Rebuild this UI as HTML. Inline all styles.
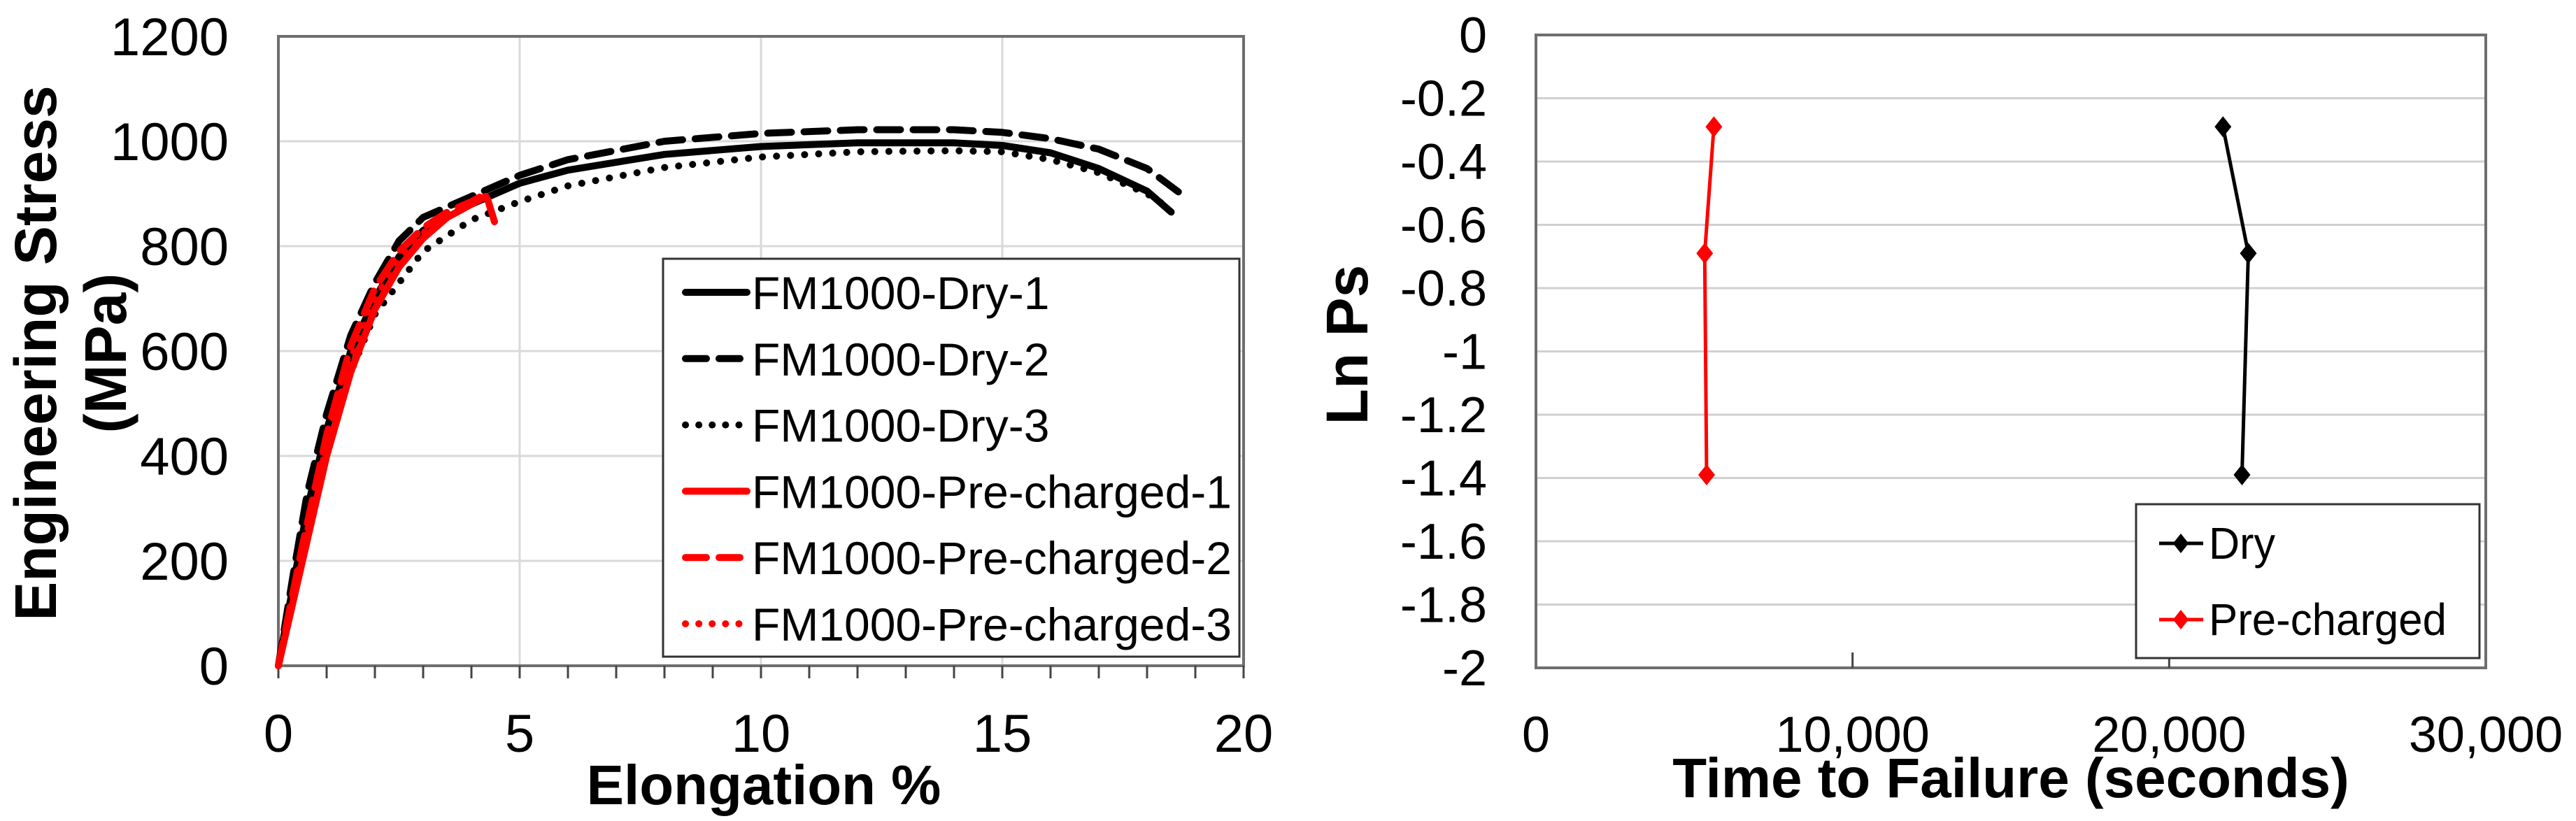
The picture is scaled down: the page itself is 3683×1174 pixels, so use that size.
<!DOCTYPE html>
<html><head><meta charset="utf-8"><style>
html,body{margin:0;padding:0;background:#fff;}
svg{display:block;font-family:"Liberation Sans",Arial,sans-serif;}
</style></head><body>
<svg id="c" width="3683" height="1174" viewBox="0 0 3683 1174"></svg>
<script>
// ---- Left chart data ----
const elongTicks = [0,5,10,15,20];
const stressTicks = [0,200,400,600,800,1000,1200];
const seriesNames = ["FM1000-Dry-1","FM1000-Dry-2","FM1000-Dry-3","FM1000-Pre-charged-1","FM1000-Pre-charged-2","FM1000-Pre-charged-3"];
const dry1X = [0,0.3,0.6,1,1.5,2,2.5,3,4,5,6,8,10,12,14,15,16,17,18,18.5];
const dry1Y = [0,150,300,450,600,700,780,830,880,920,945,975,990,997,997,992,978,948,905,865];
const dry2X = [0,0.3,0.6,1,1.5,2,2.5,3,4,5,6,8,10,12,14,15,16,17,18,18.7];
const dry2Y = [0,170,330,480,630,730,810,855,895,935,965,1000,1015,1022,1022,1017,1005,985,948,900];
const dry3X = [0,0.5,1,1.5,2,3,4,5,6,8,10,12,14,15,16,17,18,18.5];
const dry3Y = [0,200,400,560,670,790,850,885,915,950,970,980,982,980,965,940,900,870];
const pre1X = [0,0.5,1,1.5,2,2.5,3,3.5,4,4.3];
const pre1Y = [0,200,400,560,680,760,815,855,880,895];
const pre2X = [0,0.5,1,1.5,2,2.5,3,3.5,4,4.3,4.4,4.5];
const pre2Y = [0,230,440,610,720,790,835,865,885,900,870,840];
const pre3X = [0,0.5,1,1.5,2,2.5,3,3.5,4,4.2];
const pre3Y = [0,215,420,585,700,775,825,860,882,890];
// ---- Right chart data ----
const timeTicks = [0,10000,20000,30000];
const timeTickLabels = ["0","10,000","20,000","30,000"];
const lnTicks = [0,-0.2,-0.4,-0.6,-0.8,-1,-1.2,-1.4,-1.6,-1.8,-2];
const dryTime = [21700,22500,22300];
const dryLn = [-0.29,-0.69,-1.39];
const preTime = [5620,5330,5390];
const preLn = [-0.29,-0.69,-1.39];

const svg = document.getElementById('c');
const NS = "http://www.w3.org/2000/svg";
function mk(tag, attrs, parent){const e=document.createElementNS(NS,tag);for(const k in attrs)e.setAttribute(k,attrs[k]);(parent||svg).appendChild(e);return e;}

// Left axes
const L={x0:398,x1:1778,y0:952,y1:52};
const lx=v=>L.x0+(v-0)/(20-0)*(L.x1-L.x0);
const ly=v=>L.y0-(v-0)/(1200-0)*(L.y0-L.y1);
const gL=mk('g',{});


elongTicks.forEach(t=>{ if(t>0&&t<20){const l=mk('line',{x1:lx(t),x2:lx(t),y1:L.y1,y2:L.y0,stroke:'#d9d9d9','stroke-width':3},gL);}});
stressTicks.forEach(t=>{ if(t>0&&t<1200){const l=mk('line',{x1:L.x0,x2:L.x1,y1:ly(t),y2:ly(t),stroke:'#d9d9d9','stroke-width':3},gL);}});
const fr=mk('rect',{x:L.x0,y:L.y1,width:L.x1-L.x0,height:L.y0-L.y1,fill:'none',stroke:'#6e6e6e','stroke-width':4},gL);

for(let i=0;i<=20;i++){const l=mk('line',{x1:lx(i),x2:lx(i),y1:L.y0,y2:L.y0+18,stroke:'#444','stroke-width':3},gL);}
stressTicks.forEach(t=>{const e=mk('text',{x:327,y:ly(t)+27,'text-anchor':'end','font-size':76},gL);e.textContent=t;});
elongTicks.forEach(t=>{const e=mk('text',{x:lx(t),y:1075,'text-anchor':'middle','font-size':76},gL);e.textContent=t;});
let tt=mk('text',{x:1092,y:1150,'text-anchor':'middle','font-size':80,'font-weight':'bold'},gL);tt.textContent='Elongation %';

tt=mk('text',{x:0,y:0,'text-anchor':'middle','font-size':84,'font-weight':'bold',transform:'translate(80,505) rotate(-90)'},gL);tt.textContent='Engineering Stress';

tt=mk('text',{x:0,y:0,'text-anchor':'middle','font-size':84,'font-weight':'bold',transform:'translate(180,505) rotate(-90)'},gL);tt.textContent='(MPa)';


const styles=[
 {c:'#000',d:null},{c:'#000',d:'34 18'},{c:'#000',d:'0.1 20'},
 {c:'#ff0000',d:null},{c:'#ff0000',d:'34 18'},{c:'#ff0000',d:'0.1 20'}];
const sx=[dry1X,dry2X,dry3X,pre1X,pre2X,pre3X], sy=[dry1Y,dry2Y,dry3Y,pre1Y,pre2Y,pre3Y];
const lineNames=['line-dry-1','line-dry-2','line-dry-3','line-pre-charged-1','line-pre-charged-2','line-pre-charged-3'];
sx.forEach((xs,i)=>{
  const pts=xs.map((x,j)=>lx(x).toFixed(1)+','+ly(sy[i][j]).toFixed(1)).join(' ');
  const a={points:pts,fill:'none',stroke:styles[i].c,'stroke-width':10,'stroke-linecap':'round','stroke-linejoin':'round'};
  if(styles[i].d)a['stroke-dasharray']=styles[i].d;
  const p=mk('polyline',a,gL);
  
  
});
// Left legend
const lg=mk('g',{},gL);

mk('rect',{x:948,y:370,width:824,height:569,fill:'#fff',stroke:'#333','stroke-width':3},lg);
seriesNames.forEach((n,i)=>{
  const y=418+i*94.8;
  const a={x1:980,x2:1068,y1:y,y2:y,stroke:styles[i].c,'stroke-width':10,'stroke-linecap':'round'};
  if(styles[i].d)a['stroke-dasharray']=styles[i].d==='0.1 20'?'0.1 19':'30 18';
  mk('line',a,lg);
  const t=mk('text',{x:1075,y:y+24,'font-size':66},lg);t.textContent=n;
  
});

// Right axes
const R={x0:2196,x1:3554,y0:955,y1:50};
const rx=v=>R.x0+v/30000*(R.x1-R.x0);
const ry=v=>R.y1+(0-v)/2*(R.y0-R.y1);
const gR=mk('g',{});

lnTicks.forEach(t=>{ if(t<0&&t>-2){const l=mk('line',{x1:R.x0,x2:R.x1,y1:ry(t),y2:ry(t),stroke:'#d0d0d0','stroke-width':3},gR);}});
const fr2=mk('rect',{x:R.x0,y:R.y1,width:R.x1-R.x0,height:R.y0-R.y1,fill:'none',stroke:'#6e6e6e','stroke-width':4},gR);

timeTicks.forEach((t,i)=>{
  if(i>0&&i<3){const l=mk('line',{x1:rx(t),x2:rx(t),y1:R.y0-22,y2:R.y0,stroke:'#444','stroke-width':3},gR);}
  const e=mk('text',{x:rx(t),y:1075,'text-anchor':'middle','font-size':72},gR);e.textContent=timeTickLabels[i];
  
});
lnTicks.forEach(t=>{const e=mk('text',{x:2126,y:ry(t)+25,'text-anchor':'end','font-size':72},gR);e.textContent=String(t);
  });
tt=mk('text',{x:2875,y:1140,'text-anchor':'middle','font-size':80,'font-weight':'bold'},gR);tt.textContent='Time to Failure (seconds)';

tt=mk('text',{x:0,y:0,'text-anchor':'middle','font-size':84,'font-weight':'bold',transform:'translate(1955,493) rotate(-90)'},gR);tt.textContent='Ln Ps';

function diamond(cx,cy,r,col,parent){return mk('polygon',{points:`${cx},${cy-r} ${cx+r*0.8},${cy} ${cx},${cy+r} ${cx-r*0.8},${cy}`,fill:col},parent);}
[[dryTime,dryLn,'#000','series-dry'],[preTime,preLn,'#ff0000','series-pre-charged']].forEach(([xs,ys,col,nm])=>{
  const g=mk('g',{},gR);
  
  mk('polyline',{points:xs.map((x,j)=>rx(x)+','+ry(ys[j])).join(' '),fill:'none',stroke:col,'stroke-width':5},g);
  xs.forEach((x,j)=>{const d=diamond(rx(x),ry(ys[j]),15,col,g);});
});
const rg=mk('g',{},gR);

mk('rect',{x:3054,y:721,width:491,height:220,fill:'#fff',stroke:'#333','stroke-width':3},rg);
[['Dry','#000',777],['Pre-charged','#ff0000',886]].forEach(([n,c,y])=>{
  mk('line',{x1:3087,x2:3150,y1:y,y2:y,stroke:c,'stroke-width':5},rg);
  diamond(3118,y,14,c,rg);
  const t=mk('text',{x:3158,y:y+22,'font-size':64,'textLength':n==='Dry'?95:340,'lengthAdjust':'spacingAndGlyphs'},rg);t.textContent=n;
  
});
</script>
</body></html>
